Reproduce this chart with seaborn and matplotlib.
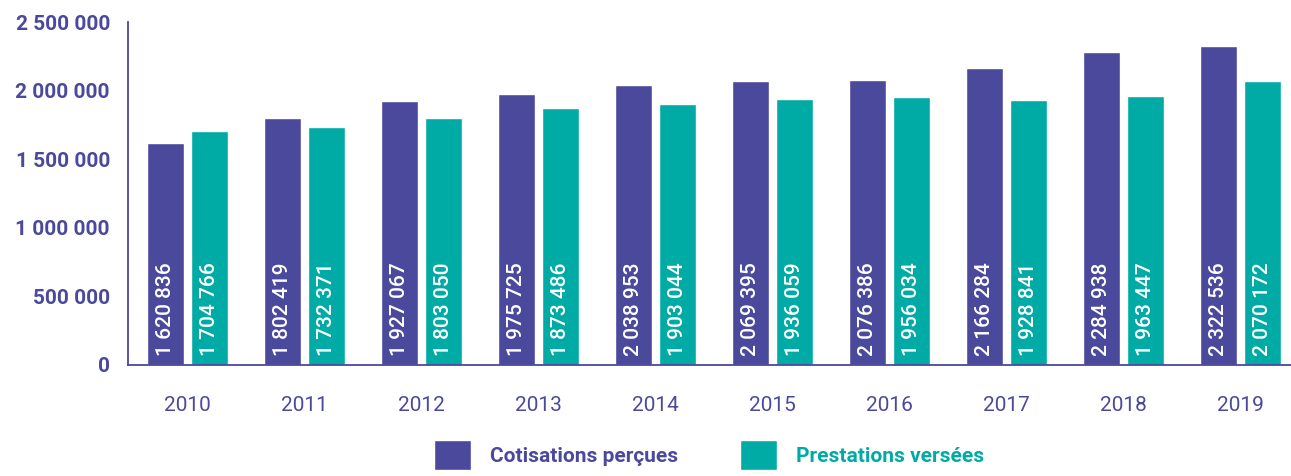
import matplotlib
matplotlib.use("Agg")
import matplotlib.pyplot as plt
from matplotlib.ticker import FixedLocator, FuncFormatter
import pandas as pd
import seaborn as sns

# data
years = ["2010", "2011", "2012", "2013", "2014", "2015", "2016", "2017", "2018", "2019"]
cotisations = [1620836, 1802419, 1927067, 1975725, 2038953, 2069395, 2076386, 2166284, 2284938, 2322536]
prestations = [1704766, 1732371, 1803050, 1873486, 1903044, 1936059, 1956034, 1928841, 1963447, 2070172]
series_names = ["Cotisations perçues", "Prestations versées"]

purple = "#4b499b"
teal = "#00aaa5"

df = pd.DataFrame({
    "annee": years * 2,
    "valeur": cotisations + prestations,
    "serie": [series_names[0]] * len(years) + [series_names[1]] * len(years),
})

sns.set_style("white")
plt.rcParams["font.family"] = ["Roboto", "DejaVu Sans"]

fig = plt.figure(figsize=(12.91, 4.76), dpi=100)
ax = fig.add_axes([128 / 1291, (476 - 365) / 476, (1291 - 128) / 1291, (365 - 22) / 476])

sns.barplot(data=df, x="annee", y="valeur", hue="serie", palette=[purple, teal],
            width=0.752, gap=0.16, saturation=1, ax=ax)

# value labels inside bars
for container in ax.containers:
    for bar in container:
        v = bar.get_height()
        txt = f"{int(round(v)):,}".replace(",", " ")
        ax.annotate(txt, xy=(bar.get_x() + bar.get_width() / 2, 0), xytext=(0, 6.5),
                    textcoords="offset points", rotation=90, ha="center", va="bottom",
                    color="white", fontsize=15, fontweight="medium")

# axes styling
ax.set_xlim(-0.508, 9.43)
ax.set_ylim(0, 2500000)
ax.set_xlabel("")
ax.set_ylabel("")
for side in ["top", "right"]:
    ax.spines[side].set_visible(False)
for side in ["left", "bottom"]:
    ax.spines[side].set_color(purple)
    ax.spines[side].set_linewidth(1.3)

ax.yaxis.set_major_locator(FixedLocator([0, 500000, 1000000, 1500000, 2000000, 2500000]))
ax.yaxis.set_major_formatter(FuncFormatter(lambda v, p: f"{int(v):,}".replace(",", " ")))
ax.tick_params(axis="y", direction="in", length=8, width=1.3, color=purple,
               labelcolor=purple, labelsize=15, pad=13)
for lab in ax.get_yticklabels():
    lab.set_fontweight("bold")

ax.xaxis.set_minor_locator(FixedLocator([i + 0.5 for i in range(len(years))]))
ax.tick_params(axis="x", which="major", length=0, labelcolor=purple, labelsize=15, pad=22)
ax.tick_params(axis="x", which="minor", direction="in", length=9, width=1.3, color=purple)

# legend
sns.move_legend(ax, "center", bbox_to_anchor=(709 / 1291, 21 / 476),
                bbox_transform=fig.transFigure, ncol=2, frameon=False, title=None,
                fontsize=15, handlelength=1.78, handleheight=1.78, handletextpad=0.9,
                columnspacing=3.0, borderaxespad=0)
leg = ax.get_legend()
for t, c in zip(leg.get_texts(), [purple, teal]):
    t.set_color(c)
    t.set_fontweight("bold")

fig.savefig("out.png", dpi=100)
